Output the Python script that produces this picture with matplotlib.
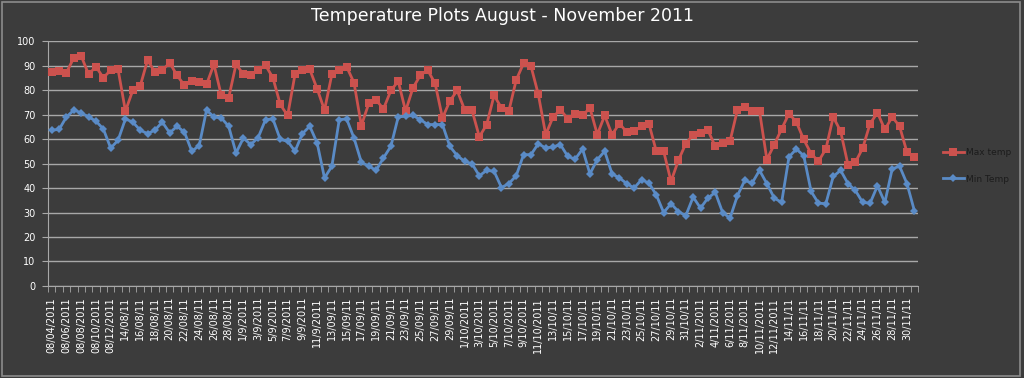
import matplotlib
matplotlib.use('agg')
import matplotlib.pyplot as plt
from matplotlib.patches import Rectangle
import numpy as np

# daily readings, 4 Aug - 1 Dec 2011 (118 days in sheet)
max_temp = [87.3, 87.7, 87.1, 93.2, 93.9, 86.4, 89.5, 85.0, 88.1, 88.4,
            71.4, 79.9, 81.6, 92.2, 87.3, 88.1, 91.1, 86.0, 81.9, 83.6,
            83.2, 82.3, 90.5, 77.8, 76.8, 90.5, 86.4, 86.2, 88.1, 90.1,
            85.0, 74.1, 69.6, 86.4, 88.1, 88.4, 80.5, 71.8, 86.4, 88.1,
            89.5, 83.0, 65.5, 74.5, 75.9, 72.3, 79.8, 83.6, 71.4, 80.9,
            86.0, 88.1, 82.7, 68.6, 75.5, 79.8, 72.0, 71.8, 60.9, 65.9,
            77.8, 72.7, 71.4, 84.1, 90.9, 89.8, 78.2, 61.8, 69.0, 72.0,
            68.2, 70.4, 69.6, 72.7, 61.8, 69.6, 61.8, 66.3, 62.8, 63.2,
            65.2, 66.3, 55.0, 55.0, 42.7, 51.3, 58.1, 61.8, 62.5, 63.6,
            57.0, 58.4, 59.1, 71.8, 73.1, 71.4, 71.4, 51.6, 57.7, 64.1,
            70.4, 66.9, 59.8, 54.0, 50.9, 55.9, 69.0, 63.2, 49.5, 50.5,
            56.3, 66.3, 70.7, 63.9, 69.0, 65.2, 54.6, 52.7]

min_temp = [63.6, 63.9, 69.0, 71.8, 70.7, 69.0, 67.3, 64.1, 56.3, 59.5,
            68.2, 66.9, 63.6, 62.2, 63.6, 66.9, 62.5, 65.2, 62.8, 55.0,
            57.3, 71.8, 69.0, 68.6, 65.2, 54.3, 60.4, 57.7, 60.6, 67.9,
            68.2, 59.8, 59.1, 55.0, 62.2, 65.2, 58.4, 44.1, 48.9, 67.9,
            68.2, 60.4, 50.5, 48.9, 47.2, 52.3, 57.0, 69.0, 69.3, 69.6,
            67.9, 65.9, 65.9, 65.9, 57.0, 53.2, 50.9, 49.9, 45.0, 47.2,
            46.8, 40.2, 41.8, 45.0, 53.6, 53.6, 58.1, 56.3, 56.8, 57.7,
            52.9, 51.8, 55.9, 45.8, 51.6, 55.0, 45.8, 44.1, 41.8, 40.0,
            43.4, 42.0, 37.2, 30.0, 33.6, 30.4, 28.7, 36.3, 31.8, 35.9,
            38.2, 30.0, 27.7, 36.8, 43.1, 42.0, 47.2, 41.8, 35.9, 34.1,
            52.7, 55.9, 53.2, 38.6, 33.8, 33.6, 44.7, 47.2, 41.8, 39.0,
            34.1, 33.8, 40.9, 34.1, 47.8, 48.9, 41.8, 30.8]

# only every second category gets a label
tick_labels = ["08/04/2011", "08/06/2011", "08/08/2011", "08/10/2011", "08/12/2011",
               "14/08/11", "16/08/11", "18/08/11", "20/08/11", "22/08/11", "24/08/11",
               "26/08/11", "28/08/11", "1/9/2011", "3/9/2011", "5/9/2011", "7/9/2011",
               "9/9/2011", "11/9/2011", "13/09/11", "15/09/11", "17/09/11", "19/09/11",
               "21/09/11", "23/09/11", "25/09/11", "27/09/11", "29/09/11", "1/10/2011",
               "3/10/2011", "5/10/2011", "7/10/2011", "9/10/2011", "11/10/2011",
               "13/10/11", "15/10/11", "17/10/11", "19/10/11", "21/10/11", "23/10/11",
               "25/10/11", "27/10/11", "29/10/11", "31/10/11", "2/11/2011", "4/11/2011",
               "6/11/2011", "8/11/2011", "10/11/2011", "12/11/2011", "14/11/11",
               "16/11/11", "18/11/11", "20/11/11", "22/11/11", "24/11/11", "26/11/11",
               "28/11/11", "30/11/11"]

bg = '#3c3c3c'
grid_col = '#a8a8a8'
red = '#cc524e'
blue = '#5a8bc6'

fig = plt.figure(figsize=(10.24, 3.78), dpi=100, facecolor=bg)
fig.patches.append(Rectangle((0.002, 0.005), 0.994, 0.99, transform=fig.transFigure,
                             facecolor='none', edgecolor='#8c8c8c', linewidth=1.2))

ax = fig.add_axes([0.0469, 0.2434, 0.8496, 0.6481])
ax.set_facecolor(bg)

x = np.arange(len(max_temp))
ax.plot(x, max_temp, color=red, linewidth=2, marker='s', markersize=5.5,
        markeredgewidth=0, label='Max temp', zorder=3)
ax.plot(x, min_temp, color=blue, linewidth=2, marker='D', markersize=4,
        markeredgewidth=0, label='Min Temp', zorder=3)

ax.set_xlim(-0.5, len(max_temp) - 0.5)
ax.set_ylim(0, 100)
ax.set_yticks(range(0, 101, 10))
ax.yaxis.grid(True, color=grid_col, linewidth=1)
ax.set_axisbelow(True)

ax.set_xticks(x[::2])
ax.set_xticklabels(tick_labels, rotation=90, fontsize=7, color='white')
ax.set_xticks(np.arange(-0.5, len(max_temp), 1), minor=True)
ax.tick_params(axis='x', which='major', length=0, pad=8)
ax.tick_params(axis='x', which='minor', length=4, color=grid_col)
ax.tick_params(axis='y', length=4, color=grid_col, labelsize=7, labelcolor='white', pad=5)

for side in ['top', 'right']:
    ax.spines[side].set_visible(False)
for side in ['left', 'bottom']:
    ax.spines[side].set_color(grid_col)

fig.text(0.491, 0.958, 'Temperature Plots August - November 2011', color='white',
         fontsize=12.5, ha='center', va='center')

leg = fig.legend(loc='center left', bbox_to_anchor=(0.913, 0.561), frameon=False,
                 fontsize=6.5, handlelength=2.3, labelspacing=1.9, handletextpad=0.2)
for t in leg.get_texts():
    t.set_color('#1c1c1c')

plt.savefig('out.png', dpi=100, facecolor=bg)
plt.close()
